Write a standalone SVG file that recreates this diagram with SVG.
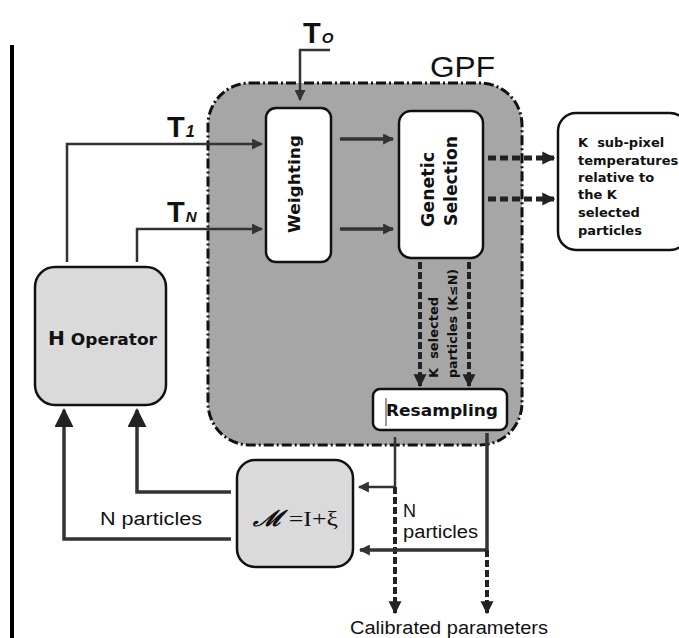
<svg xmlns="http://www.w3.org/2000/svg" width="679" height="638" viewBox="0 0 679 638">
<style>
.box{fill:#fff;stroke:#111;stroke-width:2.5}
.grey{fill:#dadada;stroke:#111;stroke-width:2.5}
.ln{fill:none;stroke:#333;stroke-width:2.5}
.thick{fill:none;stroke:#333;stroke-width:3.5}
.dash{fill:none;stroke:#222;stroke-width:5;stroke-dasharray:8 4}
.dash2{fill:none;stroke:#222;stroke-width:4;stroke-dasharray:7 3}
.b{font-family:"DejaVu Sans",Verdana,sans-serif;font-weight:bold;fill:#111}
.r{font-family:"Liberation Sans",Arial,sans-serif;fill:#111}
.t{font-family:"Liberation Sans",Arial,sans-serif;font-weight:bold;fill:#111}
</style>
<defs>
<marker id="ah" viewBox="0 0 10 10" refX="9" refY="5" markerWidth="13" markerHeight="11" markerUnits="userSpaceOnUse" orient="auto"><path d="M0,0 L10,5 L0,10 z" fill="#333"/></marker>
<marker id="big" viewBox="0 0 10 10" refX="9" refY="5" markerWidth="25" markerHeight="19" markerUnits="userSpaceOnUse" orient="auto"><path d="M0,0 L10,5 L0,10 z" fill="#222"/></marker>
<marker id="dh" viewBox="0 0 10 10" refX="9" refY="5" markerWidth="13" markerHeight="14" markerUnits="userSpaceOnUse" orient="auto"><path d="M0,0 L10,5 L0,10 z" fill="#222"/></marker>
</defs>
<rect width="679" height="638" fill="#fff"/>
<line x1="12" y1="45" x2="12" y2="638" stroke="#000" stroke-width="4"/>

<g id="gpf">
<rect x="208" y="83" width="314" height="362" rx="42" fill="#a6a6a6" stroke="#111" stroke-width="3" stroke-dasharray="10 3 2 3"/>
<text x="430" y="77" class="r" font-size="29" textLength="65" lengthAdjust="spacingAndGlyphs">GPF</text>
</g>

<g id="connectors">
<polyline class="ln" points="330,50 300,50 300,100" marker-end="url(#ah)"/>
<polyline class="ln" points="67,262 67,144 262,144" marker-end="url(#ah)"/>
<polyline class="ln" points="137,262 137,229 262,229" marker-end="url(#ah)"/>
<line class="thick" x1="340" y1="139" x2="393" y2="139" marker-end="url(#ah)"/>
<line class="thick" x1="340" y1="229" x2="393" y2="229" marker-end="url(#ah)"/>
<line class="dash" x1="488" y1="158" x2="554" y2="158" marker-end="url(#dh)"/>
<line class="dash" x1="488" y1="199" x2="554" y2="199" marker-end="url(#dh)"/>
<line class="dash2" x1="420" y1="262" x2="420" y2="386" marker-end="url(#dh)"/>
<line class="dash2" x1="469" y1="262" x2="469" y2="386" marker-end="url(#dh)"/>
<polyline class="ln" points="395,437 395,487"/>
<line class="ln" x1="395" y1="487" x2="359" y2="487" marker-end="url(#ah)"/>
<line class="dash2" x1="395" y1="487" x2="395" y2="613" marker-end="url(#dh)"/>
<polyline class="thick" points="487,433 487,550 360,550" marker-end="url(#ah)"/>
<line class="dash2" x1="487" y1="550" x2="487" y2="613" marker-end="url(#dh)"/>
<polyline class="thick" points="231,492 137,492 137,410" marker-end="url(#big)"/>
<polyline class="thick" points="231,539 64,539 64,410" marker-end="url(#big)"/>
</g>

<g id="labels">
<text x="303" y="43" class="t" font-size="29">T<tspan font-size="15" font-style="italic" dx="1">O</tspan></text>
<text x="167" y="137" class="t" font-size="29">T<tspan font-size="16" font-style="italic" dx="1">1</tspan></text>
<text x="167" y="222" class="t" font-size="29">T<tspan font-size="15" font-style="italic" dx="1">N</tspan></text>
<text x="100" y="525" class="r" font-size="18" textLength="102" lengthAdjust="spacingAndGlyphs">N particles</text>
<text x="403" y="517" class="r" font-size="18">N</text>
<text x="403" y="538" class="r" font-size="18" textLength="75" lengthAdjust="spacingAndGlyphs">particles</text>
<text x="350" y="634" class="r" font-size="18" textLength="198" lengthAdjust="spacingAndGlyphs">Calibrated parameters</text>
<text class="b" font-size="12" transform="translate(438,378) rotate(-90)" textLength="81" lengthAdjust="spacingAndGlyphs">K&#160; selected</text>
<text class="b" font-size="11.5" transform="translate(457,378) rotate(-90)" textLength="109" lengthAdjust="spacingAndGlyphs">particles (K≤N)</text>
</g>

<g id="weighting">
<rect x="266" y="108" width="65" height="154" rx="10" class="box"/>
<text class="b" font-size="15" text-anchor="middle" transform="translate(300,184) rotate(-90)" textLength="98" lengthAdjust="spacingAndGlyphs">Weighting</text>
</g>

<g id="genetic">
<rect x="399" y="111" width="84" height="147" rx="12" class="box"/>
<text class="b" font-size="17" transform="translate(434,227) rotate(-90)" textLength="75" lengthAdjust="spacingAndGlyphs">Genetic</text>
<text class="b" font-size="17" transform="translate(457,226) rotate(-90)" textLength="90" lengthAdjust="spacingAndGlyphs">Selection</text>
</g>

<g id="ksub">
<rect x="558" y="113" width="130" height="137" rx="18" class="box"/>
<text class="b" font-size="13"><tspan x="578" y="147">K&#160; sub-pixel</tspan><tspan x="578" y="165">temperatures</tspan><tspan x="578" y="182">relative to</tspan><tspan x="578" y="199">the K</tspan><tspan x="578" y="217">selected</tspan><tspan x="578" y="235">particles</tspan></text>
</g>

<g id="resampling">
<rect x="373" y="389" width="134" height="41" rx="7" class="box"/>
<line x1="386" y1="398" x2="386" y2="426" stroke="#333" stroke-width="1"/>
<text x="386" y="416" class="b" font-size="15.5" textLength="112" lengthAdjust="spacingAndGlyphs">Resampling</text>
</g>

<g id="hop">
<rect x="35" y="267" width="131" height="138" rx="20" class="grey"/>
<text x="48" y="345" class="b" font-size="16" textLength="109" lengthAdjust="spacingAndGlyphs"><tspan font-size="19">H</tspan> Operator</text>
</g>

<g id="mbox">
<rect x="237" y="460" width="116" height="107" rx="18" class="grey"/>
<text x="253" y="526" font-family="'Liberation Serif','DejaVu Serif',serif" font-size="22" fill="#111" textLength="85" lengthAdjust="spacingAndGlyphs"><tspan font-style="italic" font-weight="bold">ℳ</tspan> =I+ξ</text>
</g>
</svg>
